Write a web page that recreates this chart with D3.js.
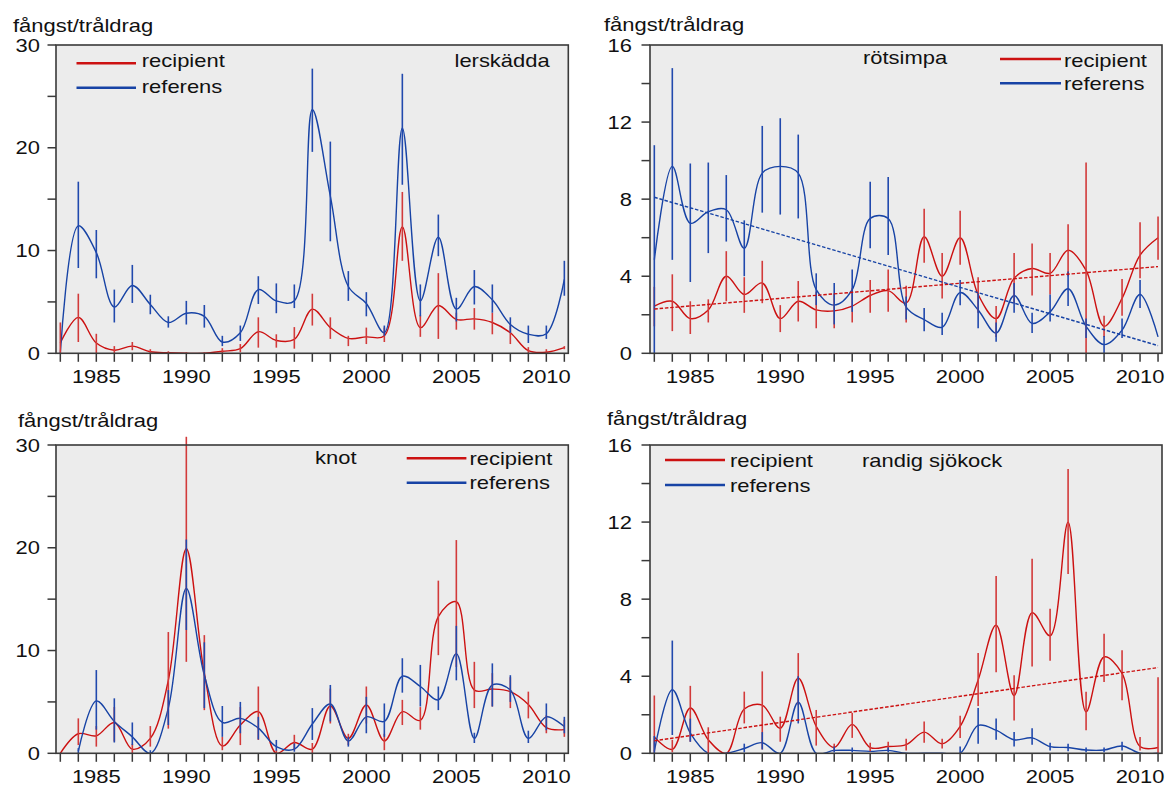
<!DOCTYPE html>
<html><head><meta charset="utf-8">
<script src="https://cdn.jsdelivr.net/npm/d3@7"></script>
<style>
html,body{margin:0;padding:0;background:#fff;}
svg{display:block;}
text{font-family:"Liberation Sans",Arial,Helvetica,sans-serif;font-size:18px;fill:#111;}
</style>
</head><body>
<svg id="c" width="1165" height="787"></svg>
<script>
// ---------- data ----------
const years = [1983,1984,1985,1986,1987,1988,1989,1990,1991,1992,1993,1994,1995,1996,1997,1998,1999,2000,2001,2002,2003,2004,2005,2006,2007,2008,2009,2010,2011];
const yearLabels = [1985,1990,1995,2000,2005,2010];
const seriesNames = ["recipient","referens"];
const yLabel = "fångst/tråldrag";

// lerskädda
const lerRecVal = [1.0,3.5,1.0,0.3,0.7,0.15,0.05,0,0,0.2,0.45,2.1,1.25,1.35,4.3,2.5,1.45,1.6,1.7,12.3,2.5,4.65,3.3,3.35,3.0,2.0,0.25,0.1,0.55];
const lerRecLo  = [0,1.1,0,0,0.3,0,0,0,0,0,0.1,0.55,0.55,0.45,2.7,1.4,0.7,0.9,1.1,9.0,1.6,1.4,2.3,2.3,1.85,0.9,0,0,0.4];
const lerRecHi  = [3.0,5.8,1.9,0.7,1.1,0.4,0.2,0.1,0.1,0.5,0.9,3.5,1.85,2.55,5.8,3.5,1.7,2.5,2.5,15.7,3.7,7.8,3.95,4.4,3.95,2.7,0.6,0.4,0.7];
const lerRefVal = [0,12.4,9.8,4.5,6.6,4.75,3.0,3.9,3.6,1.1,2.0,6.2,5.1,5.1,23.7,15.3,6.5,4.85,2.0,21.9,5.1,11.3,4.3,6.5,5.2,2.8,1.85,1.9,7.2];
const lerRefLo  = [null,8.3,7.3,3.0,4.9,3.8,2.5,2.8,2.5,0.7,1.2,4.8,3.9,4.4,19.6,10.9,5.1,3.6,1.7,16.4,3.6,9.45,3.1,4.75,3.95,2.0,1.0,1.4,5.6];
const lerRefHi  = [null,16.7,12.0,6.2,8.6,5.7,3.6,5.1,4.7,1.7,2.7,7.5,6.8,6.7,27.7,20.6,8.0,5.95,2.7,27.2,6.7,13.5,5.4,8.1,6.7,3.5,2.7,2.7,9.0];

// rötsimpa
const rotRecVal = [2.45,2.7,1.8,2.25,4.0,3.05,3.65,1.8,2.7,2.25,2.2,2.45,3.0,3.25,2.6,6.05,4.0,6.0,3.05,1.8,3.9,4.4,4.15,5.35,4.3,1.4,2.85,5.1,6.0];
const rotRecLo  = [1.4,1.15,1.0,1.6,2.7,2.1,2.6,1.1,1.65,1.3,1.3,1.6,2.1,2.15,1.6,4.7,2.85,4.6,2.1,0.85,2.6,3.0,3.05,4.0,0,0.85,1.95,3.9,4.85];
const rotRecHi  = [3.45,4.1,2.7,2.8,5.3,3.95,4.8,2.5,3.75,3.2,3.1,3.4,3.8,4.35,3.5,7.5,5.2,7.4,3.95,2.45,5.2,5.7,5.2,6.7,9.9,1.95,3.85,6.8,7.1];
const rotRefVal = [4.85,9.7,6.75,7.35,7.45,5.45,9.35,9.7,9.35,3.3,2.5,3.3,7.0,7.0,2.4,1.75,1.35,3.15,2.25,1.05,3.0,1.55,2.15,3.35,1.4,0.45,1.2,3.05,0.85];
const rotRefLo  = [0,4.85,3.7,5.2,5.8,4.0,7.3,7.2,7.0,2.5,1.5,2.15,5.45,5.1,1.75,1.15,0.95,2.5,1.3,0.6,2.1,1.05,1.65,2.45,0.8,0,0.8,2.35,null];
const rotRefHi  = [10.8,14.8,9.85,9.9,9.25,6.9,11.8,12.2,11.35,4.15,3.65,4.35,8.9,9.15,2.95,2.35,2.1,3.8,3.1,1.6,3.65,2.1,3.05,4.25,1.8,0.9,1.8,3.8,null];
const rotRecTrend = [2.3,4.5];
const rotRefTrend = [8.1,0.4];

// knot
const knoRecVal = [0,1.9,1.7,3.0,0.4,1.45,7.1,19.9,7.8,0.7,2.75,4.05,0,1.05,0.4,4.6,1.45,4.7,1.2,4.05,3.2,13.3,14.75,6.15,6.25,6.0,4.75,2.5,2.3];
const knoRecLo  = [null,0.8,0.65,1.15,0,0.65,2.4,8.9,4.2,0.3,0.8,1.3,0,0.3,0,2.9,0.8,2.9,0.3,2.75,2.3,9.55,8.4,4.4,4.55,4.4,3.4,1.95,1.6];
const knoRecHi  = [null,3.4,2.65,4.5,0.9,2.65,11.8,30.8,11.5,1.6,4.5,6.5,0.3,1.8,1.0,6.3,1.9,6.5,1.9,5.2,4.5,16.8,20.75,8.9,7.8,7.4,6.0,3.7,3.25];
const knoRefVal = [null,0.2,5.1,3.1,1.6,0,4.4,16.05,7.6,3.0,3.4,2.45,0.65,0.4,2.85,4.8,1.2,3.55,3.1,7.5,6.5,5.2,9.7,1.45,6.65,6.15,1.45,3.55,2.6];
const knoRefLo  = [null,0,2.3,1.05,0.8,0,2.75,12.0,4.4,1.6,1.95,1.35,0.25,0.15,1.3,3.1,0.65,1.95,1.6,5.9,4.55,4.2,7.1,1.0,4.55,5.0,1.0,2.25,1.95];
const knoRefHi  = [null,0.5,8.1,5.35,3.0,0.3,6.15,20.8,10.8,4.6,5.0,3.55,1.3,0.95,4.4,6.65,1.6,5.5,4.85,9.25,8.6,6.5,12.4,2.0,8.75,7.6,2.2,4.85,3.55];

// randig sjökock
const ranRecVal = [0.85,0.2,2.35,0.7,0,2.3,2.5,1.3,3.9,1.4,0.3,1.5,0.3,0.35,0.45,1.1,0.5,1.4,3.8,6.65,3.0,7.3,6.1,12.0,2.15,5.0,4.15,0.35,0.3];
const ranRecLo  = [0,0.05,0.6,0,null,1.55,0.2,0.6,2.5,0.4,0.1,0.8,0.1,0.15,0.15,0.55,0.25,0.8,2.45,4.2,1.7,4.5,4.8,9.3,1.2,3.7,2.75,0.15,0];
const ranRecHi  = [3.0,0.7,3.5,1.35,null,3.2,4.25,1.9,5.2,2.25,0.5,2.1,0.55,0.6,0.75,1.65,0.75,1.95,5.2,9.2,4.05,10.1,7.5,14.75,3.2,6.2,5.35,0.85,3.95];
const ranRefVal = [0.1,3.3,1.05,0,0,0.25,0.55,0,2.65,0,0.15,0.15,0.1,0.15,0,0,0,0,1.45,1.2,0.7,0.8,0.35,0.3,0.17,0.17,0.38,0,0];
const ranRefLo  = [0,0.95,0.6,null,null,0.05,0.2,null,1.55,null,0.05,0.05,null,0.05,null,null,null,0,0.5,0.7,0.35,0.45,0.15,0.1,0.05,0.05,0.15,null,null];
const ranRefHi  = [0.9,5.85,1.8,null,null,0.5,1.1,null,4.0,null,0.35,0.3,null,0.3,null,null,null,0.35,2.35,1.8,1.1,1.3,0.55,0.5,0.3,0.3,0.6,null,null];
const ranRecTrend = [0.65,4.45];

// ---------- layout ----------
const RED = "#cc1111", RED_BAR = "#d23a3a", BLUE = "#1743a5", BLUE_BAR = "#2149ad";
const SX = 1.22; // horizontal text stretch seen in the reference

const panels = [
  {x0:56, x1:568.3, y0:45, y1:353.3, ymax:30, minor:5, major:10,
   ylab:[13,31.7], ytl:40, species:["lerskädda",454.5,66.7],
   leg:{x1:76.5,x2:136,tx:141.8,yr:63.3,yb:87.7,tr:66.7,tb:93.3},
   rec:[lerRecVal,lerRecLo,lerRecHi], ref:[lerRefVal,lerRefLo,lerRefHi], recT:null, refT:null},
  {x0:650, x1:1162, y0:45, y1:353.3, ymax:16, minor:2, major:4,
   ylab:[604,30.5], ytl:632, species:["rötsimpa",863,64],
   leg:{x1:1000,x2:1061,tx:1064,yr:59,yb:83.3,tr:66.7,tb:90},
   rec:[rotRecVal,rotRecLo,rotRecHi], ref:[rotRefVal,rotRefLo,rotRefHi], recT:rotRecTrend, refT:rotRefTrend},
  {x0:56, x1:568.3, y0:445, y1:753.3, ymax:30, minor:5, major:10,
   ylab:[18,426.7], ytl:40, species:["knot",315,464],
   leg:{x1:406.7,x2:466.4,tx:469.4,yr:458.3,yb:482.7,tr:465,tb:489.3},
   rec:[knoRecVal,knoRecLo,knoRecHi], ref:[knoRefVal,knoRefLo,knoRefHi], recT:null, refT:null},
  {x0:650, x1:1162, y0:445, y1:753.3, ymax:16, minor:2, major:4,
   ylab:[607,425], ytl:632, species:["randig sjökock",862,466.7],
   leg:{x1:665,x2:725,tx:730,yr:460,yb:485,tr:466.7,tb:491.7},
   rec:[ranRecVal,ranRecLo,ranRecHi], ref:[ranRefVal,ranRefLo,ranRefHi], recT:ranRecTrend, refT:null}
];

const svg = d3.select("#c");

function txt(g, x, y, s, anchor){
  return g.append("text")
    .attr("transform", `translate(${x},${y}) scale(${SX},1)`)
    .attr("text-anchor", anchor || "start")
    .text(s);
}

panels.forEach((p, i) => {
  const g = svg.append("g");
  const x = d3.scaleLinear().domain([1982.76, 2011.22]).range([p.x0, p.x1]);
  const y = d3.scaleLinear().domain([0, p.ymax]).range([p.y1, p.y0]);

  g.append("rect").attr("x", p.x0).attr("y", p.y0)
    .attr("width", p.x1 - p.x0).attr("height", p.y1 - p.y0)
    .attr("fill", "#ececec");

  const clipId = "clip" + i;
  g.append("clipPath").attr("id", clipId).append("rect")
    .attr("x", p.x0).attr("y", p.y0).attr("width", p.x1 - p.x0).attr("height", p.y1 - p.y0);

  const line = d3.line()
    .defined(d => d[1] !== null)
    .x(d => x(d[0])).y(d => y(d[1]))
    .curve(d3.curveCatmullRom.alpha(0.5));

  const series = [[p.rec, RED, RED_BAR], [p.ref, BLUE, BLUE_BAR]];
  // smoothed lines
  series.forEach(([s, col]) => {
    const pts = years.map((yr, k) => [yr, s[0][k]]);
    g.append("path").attr("d", line(pts))
      .attr("fill", "none").attr("stroke", col).attr("stroke-width", 1.4)
      .attr("clip-path", `url(#${clipId})`);
  });
  // error bars
  series.forEach(([s, col, bcol]) => {
    years.forEach((yr, k) => {
      if (s[1][k] === null || s[2][k] === null) return;
      g.append("line")
        .attr("x1", x(yr)).attr("x2", x(yr))
        .attr("y1", y(s[1][k])).attr("y2", y(s[2][k]))
        .attr("stroke", bcol).attr("stroke-width", 1.6);
    });
  });
  // trend lines
  [[p.recT, RED], [p.refT, BLUE]].forEach(([t, col]) => {
    if (!t) return;
    g.append("line")
      .attr("x1", x(years[0])).attr("y1", y(t[0]))
      .attr("x2", x(years[years.length - 1])).attr("y2", y(t[1]))
      .attr("stroke", col).attr("stroke-width", 1.4)
      .attr("stroke-dasharray", "3.5,1.8");
  });

  // frame
  g.append("rect").attr("x", p.x0).attr("y", p.y0)
    .attr("width", p.x1 - p.x0).attr("height", p.y1 - p.y0)
    .attr("fill", "none").attr("stroke", "#3a3a3a").attr("stroke-width", 1.6);

  // y axis ticks
  d3.range(0, p.ymax + 0.001, p.minor).forEach(v => {
    g.append("line").attr("x1", p.x0 - 8.5).attr("x2", p.x0)
      .attr("y1", y(v)).attr("y2", y(v))
      .attr("stroke", "#3a3a3a").attr("stroke-width", 1.5);
  });
  d3.range(0, p.ymax + 0.001, p.major).forEach(v => {
    txt(g, p.ytl, y(v) + 6.5, String(v), "end");
  });

  // x axis ticks
  years.forEach(yr => {
    g.append("line").attr("x1", x(yr)).attr("x2", x(yr))
      .attr("y1", p.y1).attr("y2", p.y1 + 8.5)
      .attr("stroke", "#3a3a3a").attr("stroke-width", 1.5);
  });
  yearLabels.forEach(yr => txt(g, x(yr), p.y1 + 29.7, String(yr), "middle"));

  // labels
  txt(g, p.ylab[0], p.ylab[1], yLabel);
  txt(g, p.species[1], p.species[2], p.species[0]);

  // legend
  const L = p.leg;
  g.append("line").attr("x1", L.x1).attr("x2", L.x2).attr("y1", L.yr).attr("y2", L.yr)
    .attr("stroke", RED).attr("stroke-width", 2.5);
  g.append("line").attr("x1", L.x1).attr("x2", L.x2).attr("y1", L.yb).attr("y2", L.yb)
    .attr("stroke", BLUE).attr("stroke-width", 2.5);
  txt(g, L.tx, L.tr, seriesNames[0]);
  txt(g, L.tx, L.tb, seriesNames[1]);
});
</script>
</body></html>
